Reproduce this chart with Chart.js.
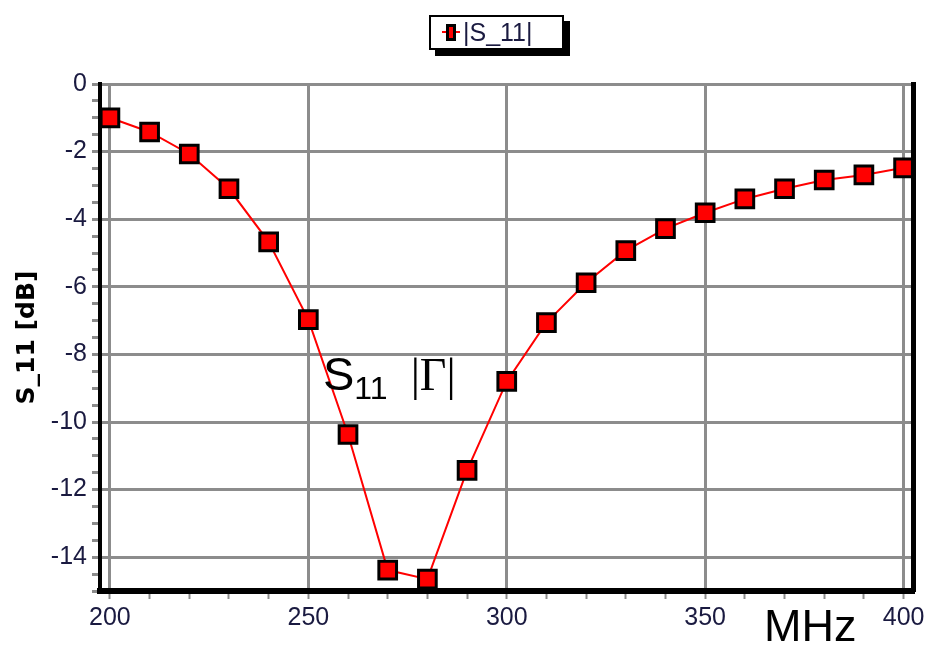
<!DOCTYPE html>
<html>
<head>
<meta charset="utf-8">
<script src="https://cdn.jsdelivr.net/npm/chart.js@4/dist/chart.umd.min.js"></script>
<style>
    html, body { margin: 0; padding: 0; background: #fff; }
    #wrap { position: relative; width: 929px; height: 647px; overflow: hidden; }
    #chart { position: absolute; left: 0; top: 0; }
    .legend {
        position: absolute; left: 429px; top: 15px; width: 131px; height: 31px;
        border: 2px solid #000; background: #fff; box-shadow: 6px 6px 0 #000;
        font: 25px "Liberation Sans", Arial, sans-serif; color: #1a1a40;
    }
    .legend .mark { position: absolute; left: 15px; top: 7px; width: 10px; height: 17px; background: #000; }
    .legend .mark i { position: absolute; left: 3px; top: 3px; width: 4px; height: 11px; background: #f00; }
    .legend .line { position: absolute; left: 11px; top: 14px; width: 18px; height: 2px; background: #f00; }
    .legend span { position: absolute; left: 32px; top: 0px; line-height: 31px; }
    .note { position: absolute; font-family: "Liberation Sans", Arial, sans-serif; color: #000; white-space: nowrap; }
</style>
</head>
<body>
<div id="wrap">
    <canvas id="chart" width="929" height="647"></canvas>
    <div class="legend"><div class="line"></div><div class="mark"><i></i></div><span>|S_11|</span></div>
    <div class="note" style="left:323px; top:346px; font-size:47px;">S<sub style="font-size:32px; vertical-align:-9px;">11</sub>
        <span style="font-family:'Liberation Serif','Times New Roman',serif; font-size:46px; margin-left:10px;">|Γ|</span></div>
    <div class="note" style="left:764px; top:600px; font-size:45px;">MHz</div>
</div>
<script>
// frequency sweep, MHz
const freqMHz = [200, 210, 220, 230, 240, 250, 260, 270, 280, 290, 300,
    310, 320, 330, 340, 350, 360, 370, 380, 390, 400];
// |S_11| in dB
const s11dB = [-1.0, -1.42, -2.07, -3.1, -4.67, -6.97, -10.37, -14.38, -14.65, -11.43, -8.8,
    -7.06, -5.88, -4.93, -4.28, -3.81, -3.4, -3.1, -2.84, -2.69, -2.48];

const xLabelTicks = [200, 250, 300, 350, 400];
const yLabelTicks = [0, -2, -4, -6, -8, -10, -12, -14];

const GRID = '#8c8c8c';
const TICK_FONT = { family: '"Liberation Sans", Arial, sans-serif', size: 25 };

new Chart(document.getElementById('chart'), {
    type: 'line',
    data: {
        datasets: [{
            label: '|S_11|',
            data: freqMHz.map((f, i) => ({ x: f, y: s11dB[i] })),
            borderColor: '#ff0000',
            borderWidth: 2,
            pointStyle: 'rect',
            pointRadius: 12.5,
            pointBorderWidth: 3,
            pointBackgroundColor: '#ff0000',
            pointBorderColor: '#000',
            tension: 0,
            clip: false,
        }],
    },
    options: {
        responsive: false,
        animation: false,
        layout: { padding: { top: 84, left: 0, right: 0, bottom: 0 } },
        plugins: {
            legend: { display: false },
            tooltip: { enabled: false },
        },
        scales: {
            x: {
                type: 'linear',
                min: 197.5,
                max: 402.5,
                afterFit: (s) => { s.height = 56; },
                ticks: {
                    stepSize: 10,
                    includeBounds: false,
                    autoSkip: false,
                    maxRotation: 0,
                    padding: 4,
                    color: '#1a1a40',
                    font: TICK_FONT,
                    callback: (v) => xLabelTicks.includes(v) ? String(v) : '',
                },
                grid: {
                    color: (c) => xLabelTicks.includes(c.tick && c.tick.value) ? GRID : 'rgba(0,0,0,0)',
                    lineWidth: 3,
                    tickColor: GRID,
                    tickWidth: 2,
                    tickLength: 8,
                },
                border: { color: '#000', width: 6 },
            },
            y: {
                min: -15,
                max: 0,
                afterFit: (s) => { s.width = 100; },
                ticks: {
                    stepSize: 0.5,
                    autoSkip: false,
                    padding: 5,
                    color: '#1a1a40',
                    font: TICK_FONT,
                    callback: (v) => yLabelTicks.includes(v) ? String(v) : '',
                },
                grid: {
                    color: (c) => yLabelTicks.includes(c.tick && c.tick.value) ? GRID : 'rgba(0,0,0,0)',
                    lineWidth: 3,
                    tickColor: GRID,
                    tickWidth: 3,
                    tickLength: 8,
                },
                border: { color: '#000', width: 4 },
                title: {
                    display: true,
                    text: 'S_11 [dB]',
                    color: '#000',
                    font: { family: '"DejaVu Sans", Verdana, sans-serif', size: 25, weight: 'bold' },
                    padding: { top: 12, bottom: 0 },
                },
            },
            yRight: {
                position: 'right',
                min: -15,
                max: 0,
                afterFit: (s) => { s.width = 12; },
                ticks: { display: false },
                grid: { drawOnChartArea: false, drawTicks: false },
                border: { color: '#000', width: 5 },
            },
        },
    },
});
</script>
</body>
</html>
